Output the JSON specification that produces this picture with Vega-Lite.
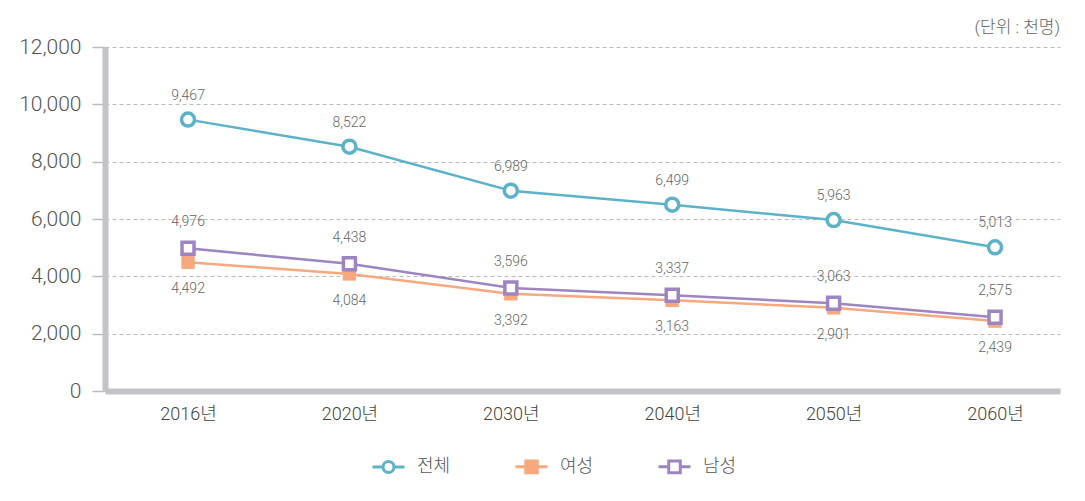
{
  "$schema": "https://vega.github.io/schema/vega-lite/v6.json",
  "width": 955,
  "height": 344,
  "autosize": "none",
  "padding": {"left": 105, "top": 47, "right": 25, "bottom": 110},
  "background": "white",
  "title": {
    "text": "(단위 : 천명)",
    "anchor": "end",
    "frame": "group",
    "fontSize": 17,
    "fontWeight": 300,
    "color": "#666666",
    "offset": -1
  },
  "config": {
    "view": {"stroke": null},
    "font": "Roboto, Noto Sans CJK KR"
  },
  "data": {
    "values": [
      {"year": "2016년", "series": "전체", "value": 9467},
      {"year": "2020년", "series": "전체", "value": 8522},
      {"year": "2030년", "series": "전체", "value": 6989},
      {"year": "2040년", "series": "전체", "value": 6499},
      {"year": "2050년", "series": "전체", "value": 5963},
      {"year": "2060년", "series": "전체", "value": 5013},
      {"year": "2016년", "series": "여성", "value": 4492},
      {"year": "2020년", "series": "여성", "value": 4084},
      {"year": "2030년", "series": "여성", "value": 3392},
      {"year": "2040년", "series": "여성", "value": 3163},
      {"year": "2050년", "series": "여성", "value": 2901},
      {"year": "2060년", "series": "여성", "value": 2439},
      {"year": "2016년", "series": "남성", "value": 4976},
      {"year": "2020년", "series": "남성", "value": 4438},
      {"year": "2030년", "series": "남성", "value": 3596},
      {"year": "2040년", "series": "남성", "value": 3337},
      {"year": "2050년", "series": "남성", "value": 3063},
      {"year": "2060년", "series": "남성", "value": 2575}
    ]
  },
  "encoding": {
    "x": {
      "field": "year",
      "type": "ordinal",
      "sort": null,
      "scale": {"type": "point", "padding": 0.4585, "align": 0.561},
      "axis": {
        "title": null,
        "labelAngle": 0,
        "domainColor": "#C3C3C7",
        "domainWidth": 6,
        "ticks": false,
        "grid": false,
        "labelPadding": 14,
        "labelFontSize": 18,
        "labelFontWeight": 300,
        "labelColor": "#444444"
      }
    },
    "y": {
      "field": "value",
      "type": "quantitative",
      "scale": {"domain": [0, 12000], "nice": false},
      "axis": {
        "title": null,
        "values": [0, 2000, 4000, 6000, 8000, 10000, 12000],
        "format": ",d",
        "domainColor": "#C3C3C7",
        "domainWidth": 6,
        "tickColor": "#BBBBBB",
        "tickSize": 13,
        "tickWidth": 1.5,
        "labelPadding": 11,
        "labelFontSize": 21,
        "labelFontWeight": 300,
        "labelColor": "#555555",
        "grid": true,
        "gridColor": "#BBBBBB",
        "gridDash": [4, 3],
        "gridWidth": 1
      }
    }
  },
  "layer": [
    {
      "transform": [{"filter": "datum.series == '여성'"}],
      "mark": {"type": "line", "color": "#F8A87E", "strokeWidth": 2.5}
    },
    {
      "transform": [{"filter": "datum.series == '남성'"}],
      "mark": {"type": "line", "color": "#9C85C0", "strokeWidth": 2.5}
    },
    {
      "transform": [{"filter": "datum.series == '전체'"}],
      "mark": {"type": "line", "color": "#5CB2C8", "strokeWidth": 2.5}
    },
    {
      "transform": [{"filter": "datum.series == '여성'"}],
      "mark": {"type": "point", "shape": "square", "filled": true, "fill": "#F8A87E", "opacity": 1, "size": 180, "strokeWidth": 0}
    },
    {
      "transform": [{"filter": "datum.series == '남성'"}],
      "mark": {"type": "point", "shape": "square", "filled": true, "fill": "white", "stroke": "#9C85C0", "strokeWidth": 3.5, "opacity": 1, "size": 144}
    },
    {
      "transform": [{"filter": "datum.series == '전체'"}],
      "mark": {"type": "point", "shape": "circle", "filled": true, "fill": "white", "stroke": "#5CB2C8", "strokeWidth": 3.5, "opacity": 1, "size": 169}
    },
    {
      "transform": [{"filter": "datum.series == '전체'"}],
      "mark": {"type": "text", "dy": -24, "fontSize": 14, "fontWeight": 300, "color": "#666666"},
      "encoding": {"text": {"field": "value", "type": "quantitative", "format": ","}}
    },
    {
      "transform": [{"filter": "datum.series == '남성'"}],
      "mark": {"type": "text", "dy": -26, "fontSize": 14, "fontWeight": 300, "color": "#666666"},
      "encoding": {"text": {"field": "value", "type": "quantitative", "format": ","}}
    },
    {
      "transform": [{"filter": "datum.series == '여성'"}],
      "mark": {"type": "text", "dy": 27, "fontSize": 14, "fontWeight": 300, "color": "#666666"},
      "encoding": {"text": {"field": "value", "type": "quantitative", "format": ","}}
    },
    {
      "transform": [{"filter": "datum.value < 0"}],
      "mark": {"type": "point", "filled": false, "opacity": 1, "strokeWidth": 3},
      "encoding": {
        "color": {
          "field": "series",
          "type": "nominal",
          "scale": {"domain": ["전체", "여성", "남성"], "range": ["#5CB2C8", "#F8A87E", "#9C85C0"]},
          "legend": {
            "title": null,
            "orient": "none",
            "legendX": 266,
            "legendY": 402,
            "direction": "horizontal",
            "padding": 0,
            "symbolSize": 1024,
            "symbolStrokeWidth": 3,
            "symbolOpacity": 1,
            "labelFontSize": 18,
            "labelFontWeight": 300,
            "labelColor": "#555555",
            "labelOffset": 11,
            "columnPadding": 58
          }
        },
        "fill": {
          "field": "series",
          "type": "nominal",
          "scale": {"domain": ["전체", "여성", "남성"], "range": ["#FFFFFF", "#F8A87E", "#FFFFFF"]}
        },
        "shape": {
          "field": "series",
          "type": "nominal",
          "scale": {
            "domain": ["전체", "여성", "남성"],
            "range": [
              "M-1,0L-0.34,0M0.34,0L1,0M-0.34,0A0.34,0.34,0,1,1,0.34,0A0.34,0.34,0,1,1,-0.34,0Z",
              "M-1,0L-0.36,0M0.36,0L1,0M-0.36,-0.36L0.36,-0.36L0.36,0.36L-0.36,0.36Z",
              "M-1,0L-0.36,0M0.36,0L1,0M-0.36,-0.36L0.36,-0.36L0.36,0.36L-0.36,0.36Z"
            ]
          }
        }
      }
    }
  ]
}
